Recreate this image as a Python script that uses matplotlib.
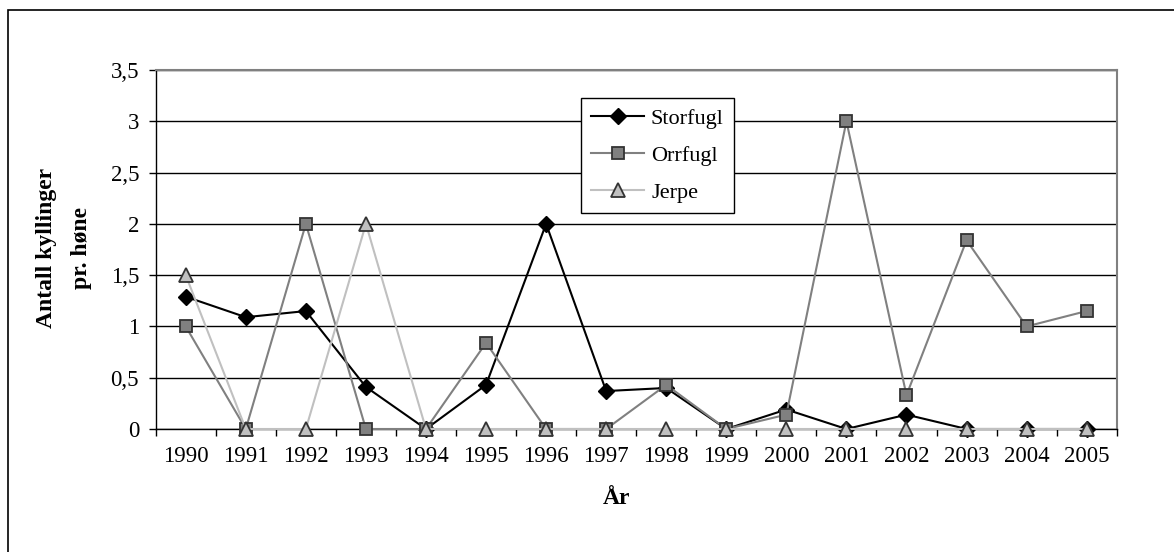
import numpy as np
import matplotlib
matplotlib.use('Agg')
import matplotlib.pyplot as plt
from matplotlib.patches import Rectangle

# Data (chicks per hen)
years = ['1990', '1991', '1992', '1993', '1994', '1995', '1996', '1997',
         '1998', '1999', '2000', '2001', '2002', '2003', '2004', '2005']
storfugl = [1.29, 1.09, 1.15, 0.41, 0, 0.43, 2.0, 0.37, 0.40, 0, 0.19, 0, 0.14, 0, 0, 0]
orrfugl = [1.0, 0, 2.0, 0, 0, 0.84, 0, 0, 0.43, 0, 0.14, 3.0, 0.33, 1.84, 1.0, 1.15]
jerpe = [1.5, 0, 0, 2.0, 0, 0, 0, 0, 0, 0, 0, 0, 0, 0, 0, 0]

y_ticks = [0, 0.5, 1, 1.5, 2, 2.5, 3, 3.5]
y_tick_labels = ['0', '0,5', '1', '1,5', '2', '2,5', '3', '3,5']

plt.rcParams['font.family'] = ['Liberation Serif', 'DejaVu Serif']

W, H = 1174, 552


def main():
    fig = plt.figure(figsize=(W / 100, H / 100), dpi=100)

    # outer chart frame (runs past the right and bottom edges)
    fig.patches.append(Rectangle((8 / W, -0.05), 1.1, 1 - 10 / H + 0.05,
                                 transform=fig.transFigure, fill=False,
                                 edgecolor='black', linewidth=1.2))

    # plot area
    left, right, top, bottom = 155.7, 1116.7, 70, 429
    ax = fig.add_axes([left / W, 1 - bottom / H, (right - left) / W, (bottom - top) / H])

    x = np.arange(len(years))
    ax.plot(x, storfugl, color='black', lw=1.5, marker='D', markersize=8,
            markerfacecolor='black', markeredgecolor='black', label='Storfugl',
            zorder=3, clip_on=False)
    ax.plot(x, orrfugl, color='#808080', lw=1.5, marker='s', markersize=9,
            markerfacecolor='#808080', markeredgecolor='#333333', markeredgewidth=1.3,
            label='Orrfugl', zorder=4, clip_on=False)
    ax.plot(x, jerpe, color='#C0C0C0', lw=1.5, marker='^', markersize=10,
            markerfacecolor='#C0C0C0', markeredgecolor='#333333', markeredgewidth=1.3,
            label='Jerpe', zorder=5, clip_on=False)

    ax.set_xlim(-0.5, len(years) - 0.5)
    ax.set_ylim(0, 3.5)
    ax.set_yticks(y_ticks)
    ax.set_yticklabels(y_tick_labels, fontsize=16.5)

    # category labels centred, tick marks on the boundaries
    ax.set_xticks(np.arange(len(years) + 1) - 0.5)
    ax.set_xticklabels([])
    ax.set_xticks(x, minor=True)
    ax.set_xticklabels(years, minor=True, fontsize=16.5)
    ax.tick_params(axis='x', which='minor', length=0, pad=12)
    ax.tick_params(axis='x', which='major', direction='out', length=5, width=1)
    ax.tick_params(axis='y', direction='out', length=5, width=1, pad=7)

    ax.set_axisbelow(True)
    ax.yaxis.grid(True, color='black', linewidth=1)
    for side in ['top', 'right']:
        ax.spines[side].set_color('#808080')
        ax.spines[side].set_linewidth(1.5)
    for side in ['left', 'bottom']:
        ax.spines[side].set_color('black')
        ax.spines[side].set_linewidth(1)

    fig.text(64 / W, 1 - 248 / H, 'Antall kyllinger\npr. høne', rotation=90,
             ha='center', va='center', fontsize=17, fontweight='bold', linespacing=1.85)
    fig.text(617 / W, 1 - 499 / H, 'År', ha='center', va='center',
             fontsize=17, fontweight='bold')

    leg = ax.legend(loc='upper left', bbox_to_anchor=((581 - left) / (right - left),
                                                     (bottom - 98) / (bottom - top)),
                    fontsize=16, frameon=True, fancybox=False, framealpha=1,
                    edgecolor='black', handlelength=2.4, borderpad=0.45,
                    labelspacing=0.75, handletextpad=0.3, borderaxespad=0)
    leg.get_frame().set_linewidth(1)

    fig.savefig('out.png', dpi=100)


if __name__ == "__main__":
    main()
